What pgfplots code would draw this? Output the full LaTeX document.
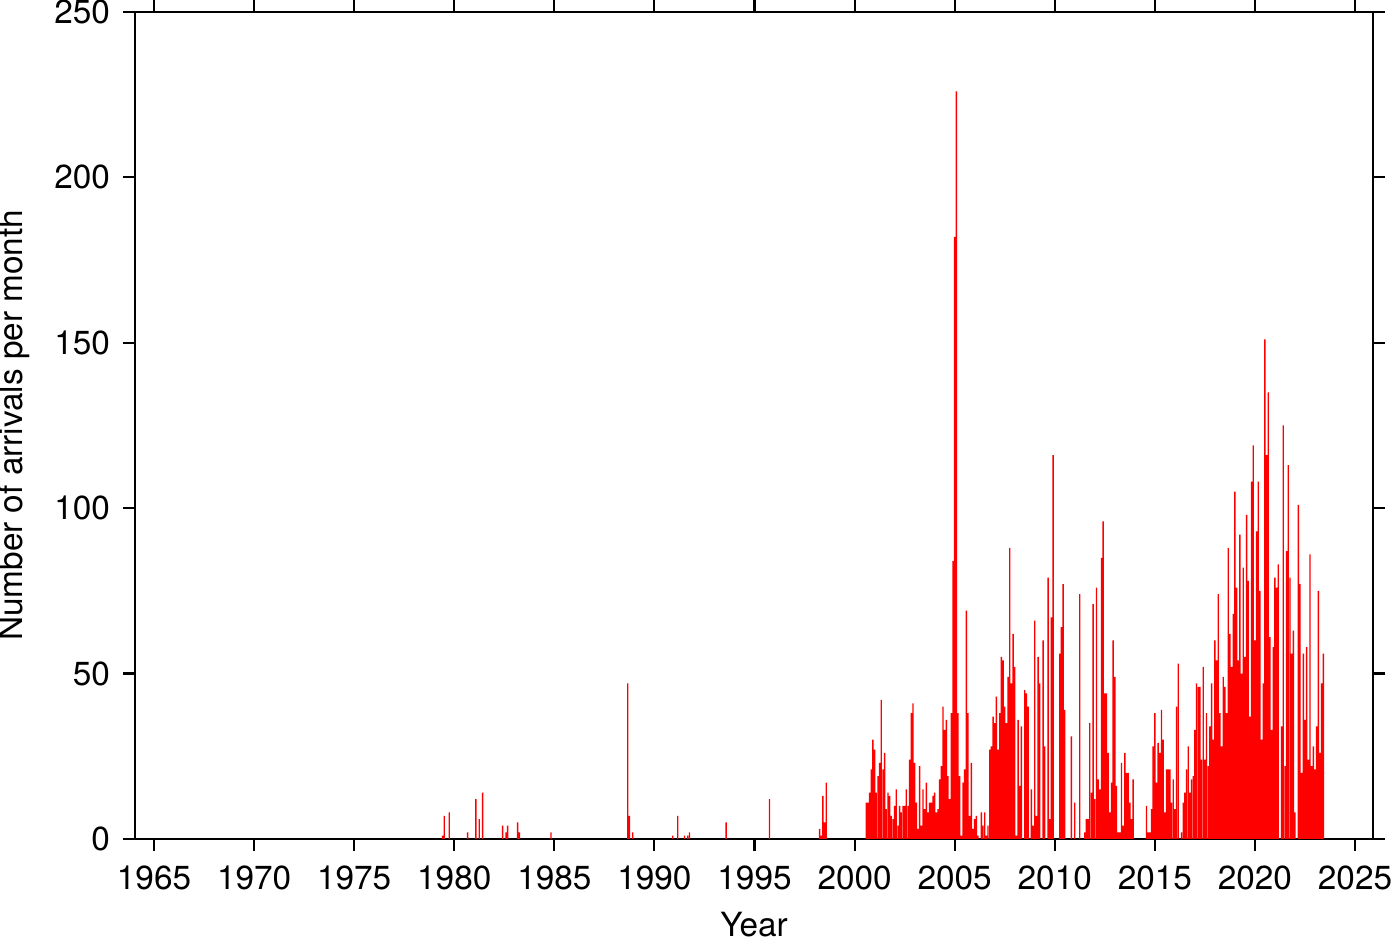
\documentclass[border=0pt]{standalone}
\usepackage{fontspec}
\setmainfont{TeX Gyre Heros}
\usepackage{pgfplots}
\pgfplotsset{compat=1.18}
\begin{document}
\fontsize{12}{14}\selectfont
\begin{tikzpicture}
\begin{axis}[
  scale only axis, width=445.7pt, height=297.7pt,
  xmin=1964.05, xmax=2025.9, ymin=0, ymax=250,
  xtick={1965,1970,...,2025}, ytick={0,50,...,250},
  tick align=outside, tick pos=both,
  major tick length=4.3pt,
  axis line style={line width=0.75pt},
  every tick/.style={black, line width=0.75pt},
  /pgf/number format/assume math mode=true,
  /pgf/number format/1000 sep={},
  tick label style={font=\fontsize{12}{14}\selectfont},
  label style={font=\fontsize{12}{14}\selectfont},
  xticklabel style={anchor=center, inner sep=0pt, yshift=-9.6pt},
  yticklabel style={anchor=east, inner sep=0pt, xshift=-4.5pt},
  xlabel={Year}, ylabel={Number of arrivals per month},
  xlabel style={at={(axis description cs:0.5,-0.104)}, anchor=center, inner sep=0pt},
  ylabel style={at={(axis description cs:-0.0979,0.5)}, anchor=center, inner sep=0pt},
  clip=false,
]
\addplot[ybar, bar width=0.07, fill=red, draw=none] coordinates {
(1979.417,1) (1979.5,7) (1979.75,8) (1980.667,2) (1981.083,12) (1981.25,6) (1981.417,14)
(1982.417,4) (1982.583,2) (1982.667,4) (1983.167,5) (1983.25,2) (1984.833,2)
(1988.667,47) (1988.75,7) (1988.917,2) (1990.917,1) (1991.167,7) (1991.5,1) (1991.667,1) (1991.75,2)
(1993.583,5) (1995.75,12) (1998.25,3) (1998.333,1) (1998.417,13) (1998.5,5) (1998.583,17)
(2000.583,11) (2000.667,11) (2000.75,14) (2000.833,21) (2000.917,30) (2001,27)
(2001.083,14) (2001.167,19) (2001.25,23) (2001.333,42) (2001.417,21) (2001.5,26) (2001.583,9) (2001.667,14) (2001.75,13) (2001.833,7) (2001.917,6) (2002,10)
(2002.083,15) (2002.167,4) (2002.25,10) (2002.333,8) (2002.417,10) (2002.5,10) (2002.583,15) (2002.667,10) (2002.75,24) (2002.833,38) (2002.917,41) (2003,23)
(2003.083,11) (2003.167,3) (2003.25,22) (2003.333,4) (2003.417,15) (2003.5,9) (2003.583,17) (2003.667,8) (2003.75,11) (2003.833,11) (2003.917,13) (2004,14)
(2004.083,8) (2004.167,9) (2004.25,18) (2004.333,22) (2004.417,40) (2004.5,33) (2004.583,36) (2004.667,19) (2004.75,12) (2004.833,38) (2004.917,84) (2005,182)
(2005.083,226) (2005.167,38) (2005.25,19) (2005.333,1) (2005.417,17) (2005.5,21) (2005.583,69) (2005.667,38) (2005.75,7) (2005.833,23) (2005.917,3) (2006,6)
(2006.083,7) (2006.167,1) (2006.333,8) (2006.417,4) (2006.5,8) (2006.583,1) (2006.667,4) (2006.75,27) (2006.833,28) (2006.917,37) (2007,35)
(2007.083,43) (2007.167,27) (2007.25,38) (2007.333,55) (2007.417,54) (2007.5,40) (2007.583,35) (2007.667,49) (2007.75,88) (2007.833,47) (2007.917,62) (2008,52)
(2008.083,1) (2008.167,36) (2008.25,16) (2008.333,34) (2008.5,45) (2008.583,44) (2008.667,40) (2008.833,15) (2008.917,4) (2009,66)
(2009.083,7) (2009.167,55) (2009.25,47) (2009.417,60) (2009.5,28) (2009.667,79) (2009.75,6) (2009.833,67) (2009.917,116)
(2010.25,56) (2010.333,64) (2010.417,77) (2010.5,39) (2010.833,31) (2011,11)
(2011.25,74) (2011.5,2) (2011.583,6) (2011.667,6) (2011.75,35) (2011.833,14) (2011.917,71) (2012,12)
(2012.083,76) (2012.167,18) (2012.25,15) (2012.333,85) (2012.417,96) (2012.5,44) (2012.583,44) (2012.667,26) (2012.75,8) (2012.833,17) (2012.917,60) (2013,49)
(2013.083,16) (2013.167,2) (2013.25,2) (2013.333,23) (2013.417,4) (2013.5,26) (2013.583,20) (2013.667,20) (2013.75,11) (2013.833,6) (2013.917,18)
(2014.583,10) (2014.667,2) (2014.75,2) (2014.833,9) (2014.917,28) (2015,38)
(2015.083,17) (2015.167,29) (2015.25,26) (2015.333,39) (2015.417,30) (2015.5,8) (2015.583,21) (2015.667,21) (2015.75,21) (2015.833,11) (2015.917,18) (2016,9)
(2016.083,40) (2016.167,53) (2016.333,2) (2016.417,11) (2016.5,14) (2016.583,21) (2016.667,28) (2016.75,14) (2016.833,18) (2016.917,19) (2017,33)
(2017.083,47) (2017.167,46) (2017.25,46) (2017.333,24) (2017.417,52) (2017.5,24) (2017.583,38) (2017.667,22) (2017.75,34) (2017.833,47) (2017.917,30) (2018,60)
(2018.083,54) (2018.167,74) (2018.25,38) (2018.333,28) (2018.417,49) (2018.5,46) (2018.583,38) (2018.667,88) (2018.75,62) (2018.833,52) (2018.917,68) (2019,105)
(2019.083,76) (2019.167,54) (2019.25,92) (2019.333,50) (2019.417,82) (2019.5,55) (2019.583,98) (2019.667,78) (2019.75,37) (2019.833,108) (2019.917,119) (2020,60)
(2020.083,93) (2020.167,108) (2020.25,75) (2020.333,30) (2020.417,47) (2020.5,151) (2020.583,116) (2020.667,135) (2020.75,61) (2020.833,33) (2020.917,58) (2021,79)
(2021.083,76) (2021.167,83) (2021.333,34) (2021.417,125) (2021.5,22) (2021.583,87) (2021.667,113) (2021.75,79) (2021.833,56) (2021.917,63) (2022,8)
(2022.167,101) (2022.25,77) (2022.333,20) (2022.417,56) (2022.5,36) (2022.583,58) (2022.667,24) (2022.75,86) (2022.833,22) (2022.917,28) (2023,21)
(2023.083,34) (2023.167,75) (2023.25,26) (2023.333,47) (2023.417,56)
};
\end{axis}
\pgfresetboundingbox
\path ([shift={(-48.6pt,-37.08pt)}]current axis.south west) rectangle ([shift={(9.72pt,4.32pt)}]current axis.north east);
\end{tikzpicture}
\end{document}
